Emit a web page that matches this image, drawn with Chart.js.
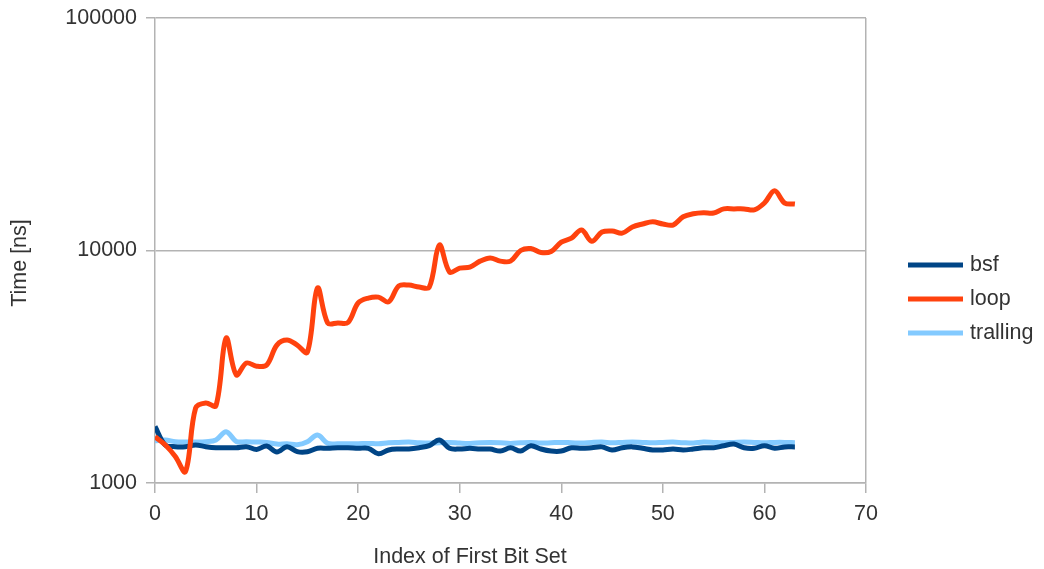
<!DOCTYPE html>
<html>
<head>
<meta charset="utf-8">
<style>
  html, body { margin: 0; padding: 0; background: #ffffff; }
  #wrap { width: 1044px; height: 569px; position: relative; }
</style>
<script src="https://cdn.jsdelivr.net/npm/chart.js@4/dist/chart.umd.min.js"></script>
</head>
<body>
<div id="wrap"><canvas id="chart" width="1044" height="569"></canvas></div>
<script>
// Index of the first set bit (x axis)
const bitIndex = [
  0, 1, 2, 3, 4, 5, 6, 7, 8, 9, 10, 11, 12, 13, 14, 15,
  16, 17, 18, 19, 20, 21, 22, 23, 24, 25, 26, 27, 28, 29, 30, 31,
  32, 33, 34, 35, 36, 37, 38, 39, 40, 41, 42, 43, 44, 45, 46, 47,
  48, 49, 50, 51, 52, 53, 54, 55, 56, 57, 58, 59, 60, 61, 62, 63
];

// Measured times in ns
const bsfTimes = [
  1750, 1457, 1433, 1433, 1457, 1433, 1418, 1418, 1418, 1433, 1395, 1442, 1360, 1433, 1365, 1363,
  1410, 1410, 1418, 1418, 1410, 1410, 1335, 1387, 1400, 1400, 1418, 1447, 1531, 1410, 1400, 1410,
  1400, 1400, 1372, 1418, 1372, 1447, 1400, 1372, 1372, 1418, 1410, 1418, 1430, 1387, 1418, 1430,
  1410, 1387, 1387, 1400, 1387, 1400, 1418, 1418, 1447, 1470, 1418, 1410, 1447, 1410, 1430, 1430
];

const loopTimes = [
  1580, 1460, 1300, 1120, 2100, 2210, 2150, 4200, 2920, 3280, 3180, 3220, 3920, 4120, 3920, 3650,
  6900, 4880, 4880, 4900, 5950, 6240, 6300, 6010, 7040, 7100, 6960, 6950, 10560, 8080, 8400, 8480,
  9000, 9290, 9000, 9000, 10000, 10200, 9800, 9900, 10860, 11300, 12250, 10960, 12000, 12130, 11880, 12620,
  13000, 13280, 13000, 12870, 13960, 14380, 14530, 14500, 15100, 15100, 15100, 14960, 16000, 18060, 16000, 15840
];

const trallingTimes = [
  1520, 1530, 1505, 1500, 1500, 1505, 1530, 1662, 1510, 1505, 1500, 1495, 1470, 1475, 1460, 1505,
  1609, 1482, 1475, 1475, 1475, 1480, 1475, 1490, 1495, 1500, 1490, 1485, 1490, 1495, 1485, 1480,
  1490, 1495, 1490, 1480, 1490, 1495, 1485, 1490, 1495, 1490, 1485, 1495, 1500, 1490, 1495, 1500,
  1495, 1490, 1495, 1500, 1490, 1485, 1500, 1495, 1490, 1495, 1500, 1495, 1490, 1495, 1495, 1490
];

const seriesNames = ['bsf', 'loop', 'tralling'];
const seriesColors = ['#004586', '#ff420e', '#83caff'];

const yTickValues = [1000, 10000, 100000];
const xTickMin = 0;
const xTickMax = 70;
const xTickStep = 10;

const xTitle = 'Index of First Bit Set';
const yTitle = 'Time [ns]';

const FONT = '"Liberation Sans", Arial, sans-serif';
const FONT_SIZE = 21.5;
const TEXT = '#333333';
const GRID = '#b3b3b3';

function toPoints(values) {
  return values.map((v, i) => ({ x: bitIndex[i], y: v }));
}

// Axis titles and the legend to the right of the plot
const sidePieces = {
  id: 'sidePieces',
  afterDraw(chart) {
    const ctx = chart.ctx;
    const font = FONT_SIZE + 'px ' + FONT;

    ctx.save();
    ctx.fillStyle = TEXT;
    ctx.font = font;
    ctx.textAlign = 'center';
    ctx.textBaseline = 'middle';
    ctx.fillText(xTitle, 470, 557);
    ctx.translate(20, 263);
    ctx.rotate(-Math.PI / 2);
    ctx.fillText(yTitle, 0, 0);
    ctx.restore();

    ctx.save();
    ctx.font = font;
    ctx.textAlign = 'left';
    ctx.textBaseline = 'middle';
    const rows = [265, 299, 333];
    chart.data.datasets.forEach((ds, i) => {
      const y = rows[i];
      ctx.strokeStyle = ds.borderColor;
      ctx.lineWidth = 5;
      ctx.beginPath();
      ctx.moveTo(908, y);
      ctx.lineTo(963, y);
      ctx.stroke();
      ctx.fillStyle = TEXT;
      ctx.fillText(ds.label, 970, y);
    });
    ctx.restore();
  }
};

const datasets = [bsfTimes, loopTimes, trallingTimes].map((vals, i) => ({
  label: seriesNames[i],
  data: toPoints(vals),
  borderColor: seriesColors[i],
  backgroundColor: seriesColors[i],
  borderWidth: 5,
  pointRadius: 0,
  tension: 0.35,
  fill: false,
  order: [1, 0, 2][i]
}));

new Chart(document.getElementById('chart'), {
  type: 'line',
  data: { datasets },
  options: {
    responsive: false,
    animation: false,
    devicePixelRatio: 1,
    layout: { padding: { top: 18, right: 178, bottom: 0, left: 0 } },
    plugins: {
      legend: { display: false },
      tooltip: { enabled: false }
    },
    scales: {
      x: {
        type: 'linear',
        min: xTickMin,
        max: xTickMax,
        afterFit(scale) {
          scale.height = 86;
          scale.paddingLeft = 0;
          scale.paddingRight = 0;
        },
        ticks: {
          stepSize: xTickStep,
          color: TEXT,
          font: { family: FONT, size: FONT_SIZE },
          padding: 8,
          maxRotation: 0
        },
        grid: {
          drawOnChartArea: true,
          color: (c) => (c.tick && c.tick.value === xTickMax ? GRID : 'rgba(0,0,0,0)'),
          tickColor: GRID,
          tickLength: 10,
          lineWidth: 1.5
        },
        border: { display: true, color: GRID, width: 1.5 }
      },
      y: {
        type: 'logarithmic',
        min: yTickValues[0],
        max: yTickValues[yTickValues.length - 1],
        afterFit(scale) {
          scale.width = 155;
          scale.paddingTop = 0;
          scale.paddingBottom = 0;
        },
        afterBuildTicks(scale) {
          scale.ticks = yTickValues.map(v => ({ value: v }));
        },
        ticks: {
          color: TEXT,
          font: { family: FONT, size: FONT_SIZE },
          padding: 9,
          callback: (v) => String(v)
        },
        grid: {
          color: GRID,
          tickColor: GRID,
          tickLength: 9,
          lineWidth: 1.5
        },
        border: { display: true, color: GRID, width: 1.5 }
      }
    }
  },
  plugins: [sidePieces]
});
</script>
</body>
</html>
